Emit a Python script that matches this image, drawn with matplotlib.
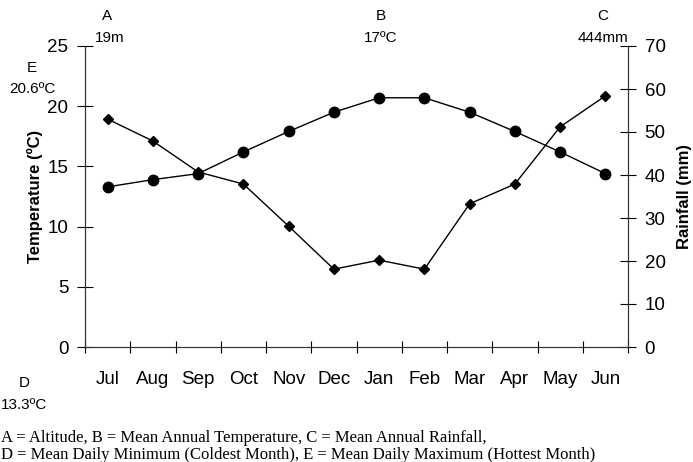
import matplotlib.pyplot as plt
import numpy as np

months = ["Jul", "Aug", "Sep", "Oct", "Nov", "Dec", "Jan", "Feb", "Mar", "Apr", "May", "Jun"]
temperature = [13.3, 13.9, 14.4, 16.2, 17.9, 19.5, 20.7, 20.7, 19.5, 17.9, 16.2, 14.4]
rainfall = [53.0, 47.9, 40.7, 37.9, 28.1, 18.1, 20.2, 18.1, 33.3, 37.9, 51.2, 58.4]

plt.rcParams['font.family'] = ['Liberation Sans', 'DejaVu Sans']

W, H = 693, 462
fig = plt.figure(figsize=(W / 100, H / 100), dpi=100)
ax = fig.add_axes([85 / W, 1 - 347 / H, (628 - 85) / W, (347 - 46) / H])
ax2 = ax.twinx()

x = np.arange(len(months))
ax.plot(x, temperature, color="black", lw=1, marker="o", ms=7.5, zorder=3)
ax2.plot(x, rainfall, color="black", lw=1, marker="D", ms=5, zorder=3)

ax.set_xlim(-0.5, len(months) - 0.5)
ax.set_ylim(0, 25)
ax2.set_ylim(0, 70)
ax.set_yticks(range(0, 26, 5))
ax2.set_yticks(range(0, 71, 10))
ax.set_xticks(x)
ax.set_xticklabels(months, fontsize=13.5)
ax.set_xticks(np.arange(-0.5, len(months), 1), minor=True)
ax.tick_params(axis="x", which="major", length=0, pad=17)
ax.tick_params(axis="x", which="minor", direction="inout", length=8, width=0.8)
ax.tick_params(axis="y", direction="inout", length=12, width=0.8, labelsize=13.5, pad=6)
ax2.tick_params(axis="y", direction="inout", length=12, width=0.8, labelsize=13.5, pad=6)

for a in (ax, ax2):
    a.spines["top"].set_visible(False)
    for s in ("left", "right", "bottom"):
        a.spines[s].set_linewidth(0.8)
        a.spines[s].set_color("#333333")

ax.set_ylabel("Temperature (ºC)", fontsize=12, fontweight="bold", labelpad=3)
ax2.set_ylabel("Rainfall (mm)", fontsize=12, fontweight="bold", labelpad=8)

def label(px, py, s, size=11):
    fig.text(px / W, 1 - py / H, s, ha="center", va="center", fontsize=size)

label(107, 16, "A")
label(110, 38, "19m")
label(381, 16, "B")
label(381, 38, "17ºC")
label(603, 16, "C")
label(603, 38, "444mm")
label(32, 68, "E")
label(32, 89, "20.6ºC")
label(24, 383, "D")
label(24, 405, "13.3ºC")

fig.text(1 / W, 1 - 438 / H, "A = Altitude, B = Mean Annual Temperature, C = Mean Annual Rainfall,",
         family="Liberation Serif", fontsize=12, va="center", ha="left")
fig.text(1 / W, 1 - 455 / H, "D = Mean Daily Minimum (Coldest Month), E = Mean Daily Maximum (Hottest Month)",
         family="Liberation Serif", fontsize=12, va="center", ha="left")

fig.savefig("out.png", dpi=100)
